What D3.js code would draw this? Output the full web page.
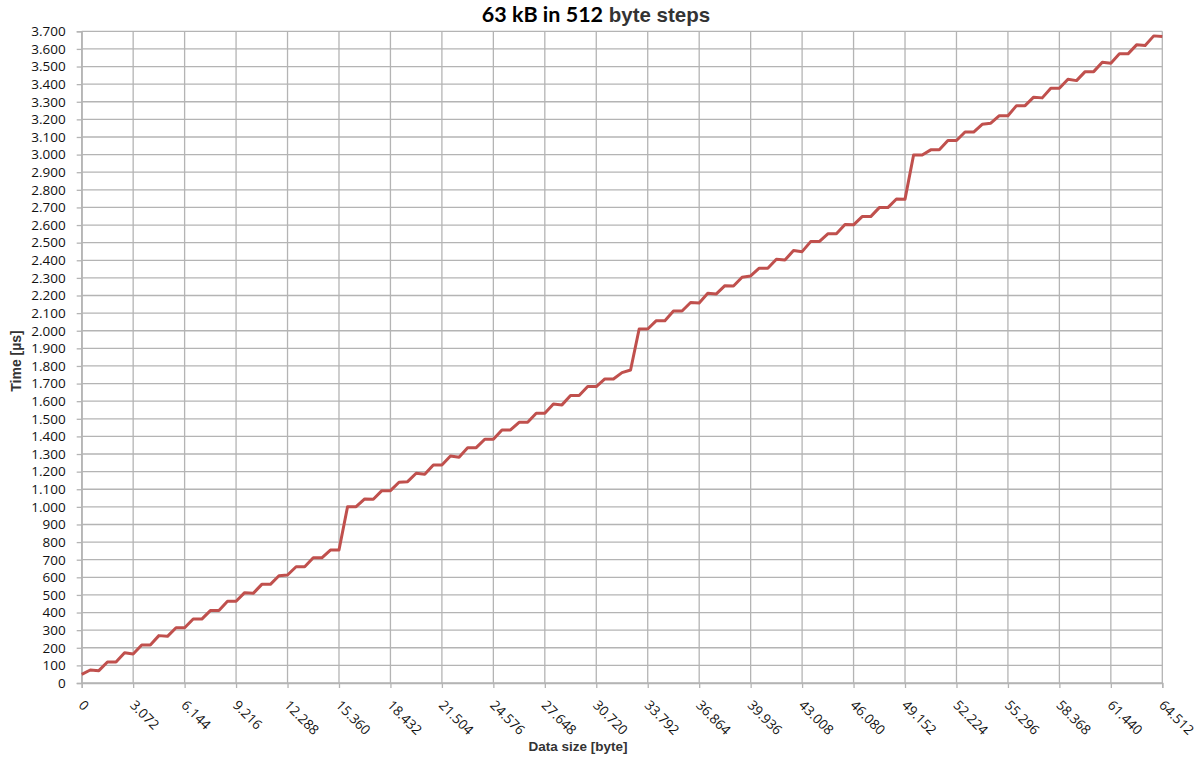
<!DOCTYPE html>
<html>
<head>
<meta charset="utf-8">
<script src="https://cdn.jsdelivr.net/npm/d3@7"></script>
<style>
  html, body { margin: 0; padding: 0; background: #ffffff; }
  svg { display: block; }
</style>
</head>
<body>
<svg id="chart" width="1201" height="758"></svg>
<script>
// Transfer sizes in bytes (0 … 64.512 in 512-byte steps)
const dataSizes = [
  0, 512, 1024, 1536, 2048, 2560, 3072, 3584, 4096, 4608,
  5120, 5632, 6144, 6656, 7168, 7680, 8192, 8704, 9216, 9728,
  10240, 10752, 11264, 11776, 12288, 12800, 13312, 13824, 14336, 14848,
  15360, 15872, 16384, 16896, 17408, 17920, 18432, 18944, 19456, 19968,
  20480, 20992, 21504, 22016, 22528, 23040, 23552, 24064, 24576, 25088,
  25600, 26112, 26624, 27136, 27648, 28160, 28672, 29184, 29696, 30208,
  30720, 31232, 31744, 32256, 32768, 33280, 33792, 34304, 34816, 35328,
  35840, 36352, 36864, 37376, 37888, 38400, 38912, 39424, 39936, 40448,
  40960, 41472, 41984, 42496, 43008, 43520, 44032, 44544, 45056, 45568,
  46080, 46592, 47104, 47616, 48128, 48640, 49152, 49664, 50176, 50688,
  51200, 51712, 52224, 52736, 53248, 53760, 54272, 54784, 55296, 55808,
  56320, 56832, 57344, 57856, 58368, 58880, 59392, 59904, 60416, 60928,
  61440, 61952, 62464, 62976, 63488, 64000, 64512
];

// Measured transfer time in microseconds for each size
const timeUs = [
  49, 74, 70, 119, 119, 172, 165, 216, 216, 269,
  265, 314, 314, 363, 363, 411, 411, 464, 464, 513,
  509, 560, 560, 609, 613, 660, 660, 711, 711, 755,
  755, 1001, 1001, 1045, 1043, 1092, 1092, 1140, 1143, 1191,
  1185, 1238, 1238, 1289, 1282, 1336, 1336, 1384, 1384, 1437,
  1437, 1480, 1480, 1532, 1532, 1584, 1579, 1632, 1632, 1683,
  1683, 1726, 1726, 1762, 1777, 2010, 2010, 2057, 2057, 2112,
  2112, 2160, 2158, 2213, 2209, 2256, 2254, 2304, 2311, 2355,
  2355, 2406, 2402, 2455, 2449, 2506, 2506, 2550, 2550, 2603,
  2601, 2648, 2648, 2699, 2699, 2748, 2747, 2998, 2998, 3027,
  3027, 3080, 3080, 3128, 3128, 3172, 3178, 3221, 3221, 3278,
  3278, 3326, 3322, 3377, 3377, 3428, 3420, 3471, 3471, 3524,
  3519, 3572, 3572, 3623, 3619, 3674, 3670
];

// Axis tick positions
const xTicks = [0, 3072, 6144, 9216, 12288, 15360, 18432, 21504, 24576, 27648,
  30720, 33792, 36864, 39936, 43008, 46080, 49152, 52224, 55296, 58368,
  61440, 64512];
const yTicks = [0, 100, 200, 300, 400, 500, 600, 700, 800, 900, 1000,
  1100, 1200, 1300, 1400, 1500, 1600, 1700, 1800, 1900, 2000,
  2100, 2200, 2300, 2400, 2500, 2600, 2700, 2800, 2900, 3000,
  3100, 3200, 3300, 3400, 3500, 3600, 3700];

const titleMain = "63 kB in 512";
const titleTail = " byte steps";
const xTitle = "Data size [byte]";
const yTitle = "Time [µs]";

// German number style: "." as thousands separator
const locale = d3.formatLocale({ decimal: ",", thousands: ".", grouping: [3], currency: ["", " €"] });
const fmt = locale.format(",d");

const svg = d3.select("#chart");
const plot = { left: 81.7, right: 1162.3, top: 31.3, bottom: 683 };
const gridColor = "#b4b4b4";
const tickFont = "'Open Sans', 'DejaVu Sans', sans-serif";

const x = d3.scaleLinear().domain([0, 64512]).range([plot.left, plot.right]);
const y = d3.scaleLinear().domain([0, 3700]).range([plot.bottom, plot.top]);

// Horizontal gridlines
svg.append("g")
  .selectAll("line")
  .data(yTicks)
  .join("line")
  .attr("x1", plot.left).attr("x2", plot.right)
  .attr("y1", d => y(d)).attr("y2", d => y(d))
  .attr("stroke", gridColor).attr("stroke-width", 1.3);

// Vertical gridlines
svg.append("g")
  .selectAll("line")
  .data(xTicks)
  .join("line")
  .attr("x1", d => x(d)).attr("x2", d => x(d))
  .attr("y1", plot.top).attr("y2", plot.bottom)
  .attr("stroke", gridColor).attr("stroke-width", 1.3);

// Y axis
const yAxis = svg.append("g")
  .attr("transform", `translate(${plot.left},0)`)
  .call(d3.axisLeft(y).tickValues(yTicks).tickFormat(fmt).tickSize(5).tickPadding(11));
yAxis.select(".domain").attr("stroke", gridColor).attr("stroke-width", 1.3);
yAxis.selectAll(".tick line").attr("stroke", gridColor).attr("stroke-width", 1.3);
yAxis.selectAll(".tick text")
  .attr("fill", "#111")
  .style("font-family", tickFont)
  .style("font-size", "13.5px");

// X axis with diagonal labels
const xAxis = svg.append("g")
  .attr("transform", `translate(0,${plot.bottom})`)
  .call(d3.axisBottom(x).tickValues(xTicks).tickFormat(fmt).tickSize(5));
xAxis.select(".domain").attr("stroke", gridColor).attr("stroke-width", 1.3);
xAxis.selectAll(".tick line").attr("stroke", gridColor).attr("stroke-width", 1.3);
xAxis.selectAll(".tick text")
  .attr("x", 0).attr("y", 0).attr("dy", 0)
  .attr("text-anchor", "start")
  .attr("transform", "translate(-4.5,23) rotate(45)")
  .attr("fill", "#111")
  .style("font-family", tickFont)
  .style("font-size", "13.5px");

// Measurement line
const line = d3.line()
  .x((d, i) => x(dataSizes[i]))
  .y(d => y(d));

svg.append("path")
  .datum(timeUs)
  .attr("d", line)
  .attr("fill", "none")
  .attr("stroke", "#c0504d")
  .attr("stroke-width", 3)
  .attr("stroke-linejoin", "round");

// Title
const title = svg.append("text")
  .attr("x", 596).attr("y", 22)
  .attr("text-anchor", "middle")
  .style("font-weight", "bold");
title.append("tspan")
  .style("font-family", "Lato, 'Open Sans', sans-serif")
  .style("font-size", "21.5px")
  .attr("fill", "#000")
  .text(titleMain);
title.append("tspan")
  .style("font-family", "'Liberation Sans', Arial, sans-serif")
  .style("font-size", "20.5px")
  .attr("fill", "#333")
  .text(titleTail);

// Axis titles
svg.append("text")
  .attr("x", 578).attr("y", 751)
  .attr("text-anchor", "middle")
  .style("font-family", "'Liberation Sans', Arial, sans-serif")
  .style("font-weight", "bold")
  .style("font-size", "13.5px")
  .attr("fill", "#333")
  .text(xTitle);

svg.append("text")
  .attr("transform", "translate(21,361) rotate(-90)")
  .attr("text-anchor", "middle")
  .style("font-family", "'Liberation Sans', Arial, sans-serif")
  .style("font-weight", "bold")
  .style("font-size", "14px")
  .attr("fill", "#333")
  .text(yTitle);
</script>
</body>
</html>
